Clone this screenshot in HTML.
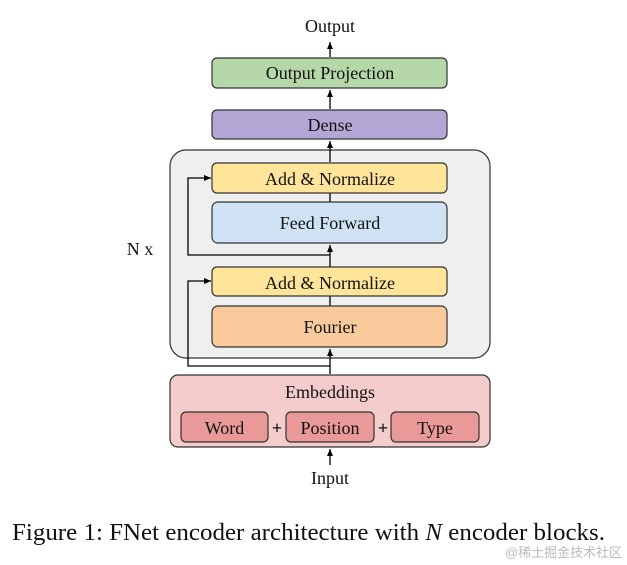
<!DOCTYPE html>
<html><head><meta charset="utf-8"><style>
body{margin:0;background:#fff;width:627px;height:565px;overflow:hidden}
svg{display:block}
text{font-family:"Liberation Serif",serif;fill:#111}
</style></head><body>
<svg width="627" height="565" viewBox="0 0 627 565" xmlns="http://www.w3.org/2000/svg">
<defs><marker id="a" markerWidth="8" markerHeight="8" refX="7" refY="4" orient="auto" markerUnits="userSpaceOnUse"><path d="M0,1 L7,4 L0,7 z" fill="#000"/></marker></defs>
<text x="330" y="32" font-size="18" text-anchor="middle">Output</text>
<line x1="330" y1="57" x2="330" y2="42" stroke="#000" stroke-width="1.3" marker-end="url(#a)"/>
<rect x="212" y="58" width="235" height="30" rx="5" fill="#b6d7a8" stroke="#333" stroke-width="1.2"/>
<text x="330" y="79" font-size="18" text-anchor="middle">Output Projection</text>
<line x1="330" y1="109" x2="330" y2="90" stroke="#000" stroke-width="1.3" marker-end="url(#a)"/>
<rect x="212" y="110" width="235" height="29" rx="5" fill="#b4a7d6" stroke="#333" stroke-width="1.2"/>
<text x="330" y="131" font-size="18" text-anchor="middle">Dense</text>
<rect x="170" y="150" width="320" height="208" rx="16" fill="#efefef" stroke="#333" stroke-width="1.2"/>
<line x1="330" y1="162" x2="330" y2="141" stroke="#000" stroke-width="1.3" marker-end="url(#a)"/>
<text x="140" y="255" font-size="18" text-anchor="middle">N x</text>
<polyline points="330,255 188,255 188,178 211,178" fill="none" stroke="#000" stroke-width="1.3" marker-end="url(#a)"/>
<polyline points="330,366 188,366 188,281 211,281" fill="none" stroke="#000" stroke-width="1.3" marker-end="url(#a)"/>
<line x1="330" y1="374" x2="330" y2="349" stroke="#000" stroke-width="1.3" marker-end="url(#a)"/>
<line x1="330" y1="267" x2="330" y2="245" stroke="#000" stroke-width="1.3" marker-end="url(#a)"/>
<line x1="330" y1="193" x2="330" y2="202" stroke="#000" stroke-width="1.3"/>
<line x1="330" y1="296" x2="330" y2="306" stroke="#000" stroke-width="1.3"/>
<rect x="212" y="163" width="235" height="30" rx="5" fill="#ffe599" stroke="#333" stroke-width="1.2"/>
<text x="330" y="185" font-size="18" text-anchor="middle">Add &amp; Normalize</text>
<rect x="212" y="202" width="235" height="41" rx="6" fill="#cfe2f3" stroke="#333" stroke-width="1.2"/>
<text x="330" y="229" font-size="18" text-anchor="middle">Feed Forward</text>
<rect x="212" y="267" width="235" height="29" rx="5" fill="#ffe599" stroke="#333" stroke-width="1.2"/>
<text x="330" y="289" font-size="18" text-anchor="middle">Add &amp; Normalize</text>
<rect x="212" y="306" width="235" height="41" rx="6" fill="#f9cb9c" stroke="#333" stroke-width="1.2"/>
<text x="330" y="333" font-size="18" text-anchor="middle">Fourier</text>
<rect x="170" y="375" width="320" height="72" rx="8" fill="#f4cccc" stroke="#333" stroke-width="1.2"/>
<text x="330" y="398" font-size="18" text-anchor="middle">Embeddings</text>
<rect x="181" y="412" width="87" height="30" rx="5" fill="#ea9999" stroke="#333" stroke-width="1.2"/>
<text x="224.5" y="434" font-size="18" text-anchor="middle">Word</text>
<text x="277" y="434" font-size="18" font-weight="bold" text-anchor="middle">+</text>
<rect x="286" y="412" width="88" height="30" rx="5" fill="#ea9999" stroke="#333" stroke-width="1.2"/>
<text x="330" y="434" font-size="18" text-anchor="middle">Position</text>
<text x="383" y="434" font-size="18" font-weight="bold" text-anchor="middle">+</text>
<rect x="391" y="412" width="88" height="30" rx="5" fill="#ea9999" stroke="#333" stroke-width="1.2"/>
<text x="435" y="434" font-size="18" text-anchor="middle">Type</text>
<line x1="330" y1="465" x2="330" y2="449" stroke="#000" stroke-width="1.3" marker-end="url(#a)"/>
<text x="330" y="484" font-size="18" text-anchor="middle">Input</text>
<text x="12" y="540" font-size="24" textLength="593" lengthAdjust="spacingAndGlyphs">Figure 1: FNet encoder architecture with <tspan font-style="italic">N</tspan> encoder blocks.</text>
<text x="505" y="557" font-size="13" textLength="117" lengthAdjust="spacingAndGlyphs" style="font-family:'Liberation Sans','Noto Sans CJK SC',sans-serif;fill:#bbb">@稀土掘金技术社区</text>
</svg>
</body></html>
